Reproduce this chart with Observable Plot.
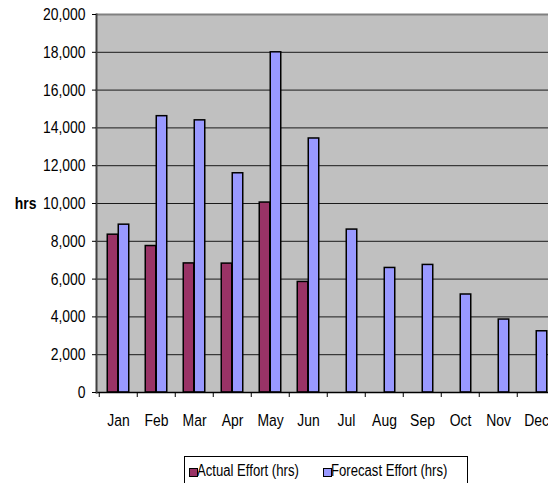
<!DOCTYPE html>
<html>
<head>
<meta charset="utf-8">
<script src="https://cdn.jsdelivr.net/npm/d3@7"></script>
<script src="https://cdn.jsdelivr.net/npm/@observablehq/plot@0.6"></script>
<style>
  html, body { margin: 0; padding: 0; background: #fff; overflow: hidden; }
  #chart {
    position: relative; width: 548px; height: 483px; overflow: hidden;
    font-family: "Liberation Sans", Arial, sans-serif;
  }
  #chart svg { position: absolute; left: 0; top: 0; max-width: none !important; }
  .legend {
    position: absolute; left: 184px; top: 456px; width: 284px; height: 40px;
    border: 1px solid #000; box-sizing: border-box; background: #fff;
    font-size: 16px; line-height: 18px; color: #000; white-space: nowrap;
  }
  .legend .sw { position: absolute; top: 11px; width: 7px; height: 7px; border: 1px solid #000; }
  .legend .lbl { position: absolute; top: 5px; transform: scaleX(0.82); transform-origin: 0 50%; }
</style>
</head>
<body>
<div id="chart"></div>
<script>
// Monthly effort in hours
const months = ["Jan", "Feb", "Mar", "Apr", "May", "Jun", "Jul", "Aug", "Sep", "Oct", "Nov", "Dec"];
const actualHrs = [8350, 7750, 6830, 6820, 10050, 5850];
const forecastHrs = [8880, 14620, 14400, 11600, 18000, 13440, 8620, 6590, 6750, 5185, 3860, 3240];
const seriesNames = ["Actual Effort (hrs)", "Forecast Effort (hrs)"];
const seriesColors = ["#993366", "#9999FF"];
const yTicks = [0, 2000, 4000, 6000, 8000, 10000, 12000, 14000, 16000, 18000, 20000];
const yLabel = "hrs";

const actual = actualHrs.map((hrs, i) => ({month: months[i], hrs}));
const forecast = forecastHrs.map((hrs, i) => ({month: months[i], hrs}));

const W = 570, H = 440, mL = 96, mR = 12, mT = 14, mB = 48;
const font = '"Liberation Sans", Arial, sans-serif';
const narrow = 0.82; // condensed lettering

// Two bars per month with a 150% gap between clusters
const band = (W - mL - mR) / months.length;
const gapWidth = 1.5;
const barW = band / (2 + gapWidth);
const outer = barW * gapWidth / 2;

const chart = Plot.plot({
  width: W, height: H,
  marginLeft: mL, marginRight: mR, marginTop: mT, marginBottom: mB,
  style: {fontFamily: font, fontSize: "17px", color: "#000", background: "transparent", overflow: "visible"},
  x: {domain: months, padding: 0, axis: null},
  y: {domain: [0, 20000], axis: null},
  marks: [
    Plot.frame({fill: "#c0c0c0", stroke: null}),
    Plot.gridY(yTicks, {stroke: "#1a1a1a", strokeOpacity: 1, strokeWidth: 1}),
    Plot.ruleY([yTicks[yTicks.length - 1]], {stroke: "#808080", strokeWidth: 2}),
    Plot.barY(forecast, {
      x: "month", y: "hrs", fill: seriesColors[1], stroke: "#000", strokeWidth: 1.5,
      insetLeft: outer + barW, insetRight: outer
    }),
    Plot.barY(actual, {
      x: "month", y: "hrs", fill: seriesColors[0], stroke: "#000", strokeWidth: 1.5,
      insetLeft: outer, insetRight: outer + barW
    }),
    Plot.ruleY([0], {stroke: "#000", strokeWidth: 1.5}),
    Plot.frame({anchor: "left", stroke: "#404040", strokeWidth: 2}),
    Plot.axisY(yTicks, {
      tickSize: 4, tickPadding: 7, tickFormat: d3.format(","), label: null,
      fontSize: 17, stroke: "#000"
    }),
    // tick marks on the boundaries between months
    Plot.axisX({tickSize: 5, tickFormat: () => "", label: null, dx: -band / 2, stroke: "#000"}),
    Plot.axisX({tickSize: 0, tickPadding: 21, label: null, fontSize: 17}),
    Plot.text([yLabel], {
      frameAnchor: "left", dx: -60, textAnchor: "end", fontWeight: "bold", fontSize: 17
    })
  ]
});

const root = d3.select("#chart");
root.node().appendChild(chart);

// Condense every label horizontally about its own anchor point
d3.select(chart).selectAll("text").each(function() {
  if (!this.textContent) return;
  const box = this.getBBox();
  const anchor = getComputedStyle(this).textAnchor;
  const ax = anchor === "end" ? box.x + box.width
    : anchor === "middle" ? box.x + box.width / 2 : box.x;
  const t = this.getAttribute("transform") || "";
  this.setAttribute("transform",
    `${t} translate(${ax},0) scale(${narrow},1) translate(${-ax},0)`.trim());
});

const legend = root.append("div").attr("class", "legend");
const itemLeft = [4, 138];
seriesNames.forEach((name, i) => {
  legend.append("span").attr("class", "sw")
    .style("left", itemLeft[i] + "px").style("background", seriesColors[i]);
  legend.append("span").attr("class", "lbl")
    .style("left", (itemLeft[i] + 8) + "px").text(name);
});
</script>
</body>
</html>
